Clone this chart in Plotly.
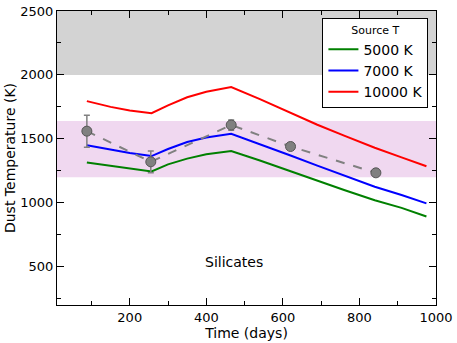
import plotly.graph_objects as go

# model curves: dust temperature vs time for three source temperatures
t_model = [88, 150, 200, 257, 300, 350, 400, 465, 540, 620, 690, 760, 840, 910, 975]
temp_5000 = [1315, 1290, 1265, 1245, 1300, 1345, 1380, 1405, 1330, 1245, 1170, 1100, 1020, 960, 892]
temp_7000 = [1450, 1415, 1390, 1365, 1420, 1475, 1510, 1540, 1460, 1370, 1290, 1215, 1125, 1060, 995]
temp_10000 = [1795, 1750, 1722, 1700, 1762, 1825, 1868, 1905, 1810, 1705, 1610, 1525, 1430, 1355, 1285]

# observed dust temperatures
t_obs = [88, 255, 465, 620, 843]
temp_obs = [1560, 1320, 1608, 1440, 1234]
temp_err = [125, 85, 40, 0, 0]

# shaded regions
grey_band = (2000, 2500)
pink_band = (1200, 1640)

font = "DejaVu Sans, Liberation Sans, sans-serif"

fig = go.Figure()

fig.add_shape(type="rect", xref="x domain", yref="y", x0=0, x1=1,
              y0=grey_band[0], y1=grey_band[1], fillcolor="#d3d3d3",
              line_width=0, layer="below")
fig.add_shape(type="rect", xref="x domain", yref="y", x0=0, x1=1,
              y0=pink_band[0], y1=pink_band[1], fillcolor="#f0d8f0",
              line_width=0, layer="below")

for name, vals, col in [("5000 K", temp_5000, "green"),
                        ("7000 K", temp_7000, "blue"),
                        ("10000 K", temp_10000, "red")]:
    fig.add_trace(go.Scatter(x=t_model, y=vals, mode="lines", name=name,
                             line=dict(color=col, width=2)))

fig.add_trace(go.Scatter(
    x=t_obs, y=temp_obs, mode="lines+markers", showlegend=False,
    line=dict(color="gray", width=2, dash="dash"),
    marker=dict(color="gray", size=10, line=dict(color="#555555", width=1)),
    error_y=dict(type="data", array=temp_err, color="gray", thickness=1.5, width=3),
))

fig.add_annotation(x=472, y=537, text="Silicates", showarrow=False,
                   font=dict(size=14, color="black", family=font))

axis_common = dict(
    showline=True, linecolor="black", linewidth=1, mirror="allticks",
    ticks="inside", ticklen=7, tickcolor="black", showgrid=False, zeroline=False,
    automargin=False,
    tickfont=dict(size=13, color="black", family=font),
)

fig.update_xaxes(range=[10, 1000], dtick=200, tick0=0,
                 minor=dict(dtick=100, ticks="inside", ticklen=4, tickcolor="black"),
                 title=dict(text="Time (days)", font=dict(size=14, color="black", family=font), standoff=4),
                 **axis_common)
fig.update_yaxes(range=[200, 2500], dtick=500, tick0=0,
                 minor=dict(dtick=250, ticks="inside", ticklen=4, tickcolor="black"),
                 title=dict(text="Dust Temperature (K)", font=dict(size=14, color="black", family=font), standoff=1),
                 **axis_common)

fig.update_layout(
    width=457, height=343,
    margin=dict(l=57, r=21, t=11, b=38),
    plot_bgcolor="white", paper_bgcolor="white",
    font=dict(family=font, color="black"),
    legend=dict(
        x=0.98, y=0.975, xanchor="right", yanchor="top",
        bgcolor="white", bordercolor="black", borderwidth=1,
        title=dict(text="Source T", side="top center", font=dict(size=11, family=font)),
        font=dict(size=14, family=font), tracegroupgap=0,
    ),
)

# drop the browser's default body margin so the figure sits at the page corner
fig.write_html("out.html", config={"displayModeBar": False},
               post_script="document.body.style.margin = '0';")
